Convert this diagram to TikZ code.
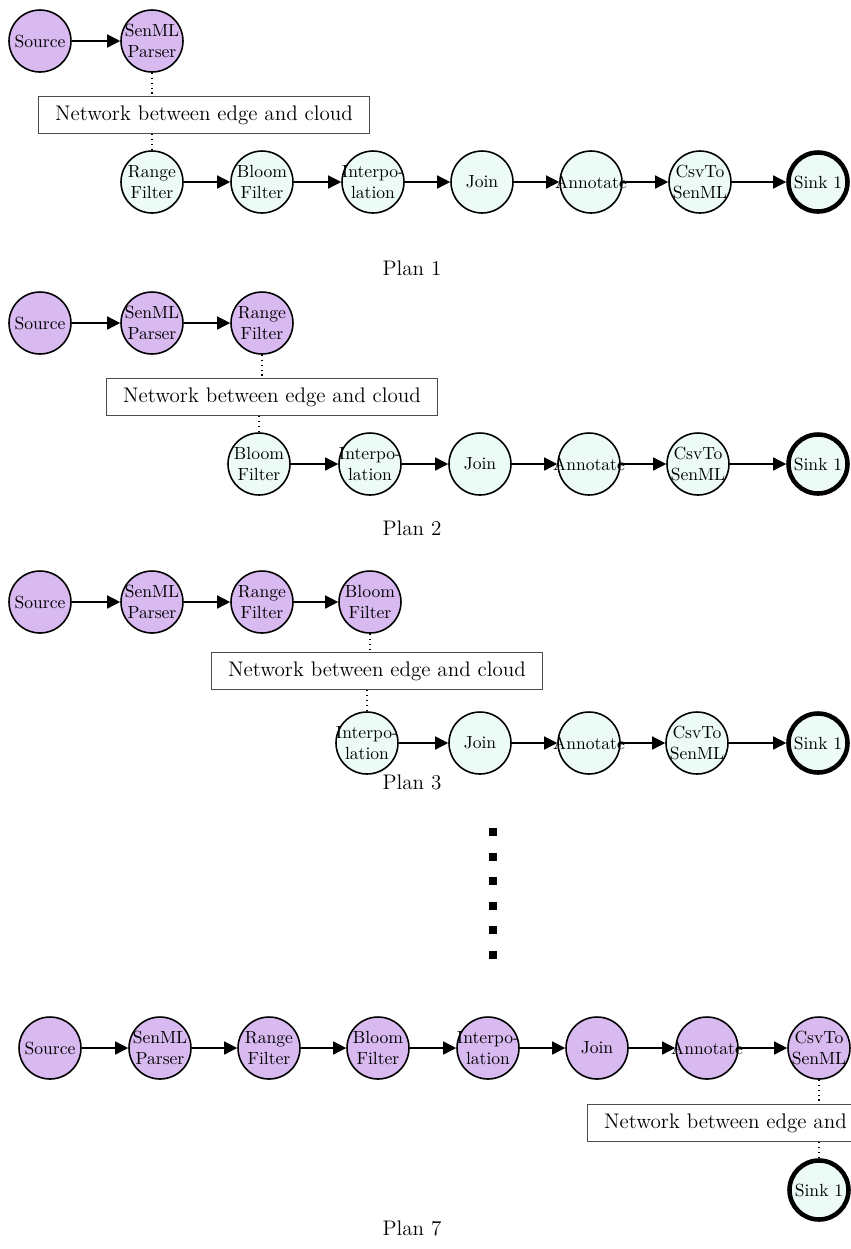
\documentclass[tikz,border=0pt]{standalone}
\usepackage{tikz}
\usetikzlibrary{arrows.meta,positioning}
\definecolor{edgefill}{HTML}{D8B9F0}
\definecolor{cloudfill}{HTML}{ECFBF5}
\tikzset{
  edgeop/.style={circle,draw=black,fill=edgefill,line width=0.9pt,
                 minimum size=1.24cm,inner sep=-4pt,align=center},
  cloudop/.style={edgeop,fill=cloudfill},
  sinkop/.style={cloudop,line width=2.6pt,minimum size=1.18cm},
  netbox/.style={draw=black!70,fill=white,line width=0.6pt,
                 minimum width=6.64cm,minimum height=0.74cm,inner sep=0pt,
                 font=\large},
  flow/.style={-{Triangle[length=2.6mm,width=2.6mm]},line width=0.8pt},
  hop/.style={dotted,line width=0.8pt},
  plantag/.style={font=\large},
}

\begin{document}
\begin{tikzpicture}[x=0.02cm,y=-0.02cm]
  \clip (0,0) rectangle (851,1249);

  % ---- Plan 1 ----
  \node[edgeop] (src1) at (40,41) {Source};
  \node[edgeop] (sen1) at (152,41) {SenML\\Parser};
  \node[netbox] (net1) at (204,115) {Network between edge and cloud};
  \node[cloudop] (rng1) at (152,182) {Range\\Filter};
  \node[cloudop] (blm1) at (262,182) {Bloom\\Filter};
  \node[cloudop] (itp1) at (373,182) {Interpo-\\lation};
  \node[cloudop] (join1) at (482,182) {Join};
  \node[cloudop] (ann1) at (591,182) {Annotate};
  \node[cloudop] (csv1) at (700,182) {CsvTo\\SenML};
  \node[sinkop] (snk1) at (818,182) {Sink 1};
  \node[plantag] (plan1) at (412,268) {Plan 1};

  \draw[flow] (src1) -- (sen1);
  \draw[hop] (sen1.south) -- (sen1.south |- net1.north);
  \draw[hop] (net1.south -| rng1) -- (rng1.north);
  \draw[flow] (rng1) -- (blm1);
  \draw[flow] (blm1) -- (itp1);
  \draw[flow] (itp1) -- (join1);
  \draw[flow] (join1) -- (ann1);
  \draw[flow] (ann1) -- (csv1);
  \draw[flow] (csv1) -- (snk1);

  % ---- Plan 2 ----
  \node[edgeop] (src2) at (40,323) {Source};
  \node[edgeop] (sen2) at (152,323) {SenML\\Parser};
  \node[edgeop] (rng2) at (262,323) {Range\\Filter};
  \node[netbox] (net2) at (272,397) {Network between edge and cloud};
  \node[cloudop] (blm2) at (259,464) {Bloom\\Filter};
  \node[cloudop] (itp2) at (370,464) {Interpo-\\lation};
  \node[cloudop] (join2) at (480,464) {Join};
  \node[cloudop] (ann2) at (589,464) {Annotate};
  \node[cloudop] (csv2) at (698,464) {CsvTo\\SenML};
  \node[sinkop] (snk2) at (818,464) {Sink 1};
  \node[plantag] (plan2) at (412,528) {Plan 2};

  \draw[flow] (src2) -- (sen2);
  \draw[flow] (sen2) -- (rng2);
  \draw[hop] (rng2.south) -- (rng2.south |- net2.north);
  \draw[hop] (net2.south -| blm2) -- (blm2.north);
  \draw[flow] (blm2) -- (itp2);
  \draw[flow] (itp2) -- (join2);
  \draw[flow] (join2) -- (ann2);
  \draw[flow] (ann2) -- (csv2);
  \draw[flow] (csv2) -- (snk2);

  % ---- Plan 3 ----
  \node[edgeop] (src3) at (40,602) {Source};
  \node[edgeop] (sen3) at (152,602) {SenML\\Parser};
  \node[edgeop] (rng3) at (262,602) {Range\\Filter};
  \node[edgeop] (blm3) at (370,602) {Bloom\\Filter};
  \node[netbox] (net3) at (377,671) {Network between edge and cloud};
  \node[cloudop] (itp3) at (367,743) {Interpo-\\lation};
  \node[cloudop] (join3) at (480,743) {Join};
  \node[cloudop] (ann3) at (589,743) {Annotate};
  \node[cloudop] (csv3) at (697,743) {CsvTo\\SenML};
  \node[sinkop] (snk3) at (818,743) {Sink 1};
  \node[plantag] (plan3) at (412,782) {Plan 3};

  \draw[flow] (src3) -- (sen3);
  \draw[flow] (sen3) -- (rng3);
  \draw[flow] (rng3) -- (blm3);
  \draw[hop] (blm3.south) -- (blm3.south |- net3.north);
  \draw[hop] (net3.south -| itp3) -- (itp3.north);
  \draw[flow] (itp3) -- (join3);
  \draw[flow] (join3) -- (ann3);
  \draw[flow] (ann3) -- (csv3);
  \draw[flow] (csv3) -- (snk3);

  % ---- skipped plans ----
  \foreach \y in {832,857,881,906,930,955}
    \fill (489,\y-4) rectangle (497,\y+4);

  % ---- Plan 7 ----
  \node[edgeop] (src7) at (50,1048) {Source};
  \node[edgeop] (sen7) at (160,1048) {SenML\\Parser};
  \node[edgeop] (rng7) at (269,1048) {Range\\Filter};
  \node[edgeop] (blm7) at (378,1048) {Bloom\\Filter};
  \node[edgeop] (itp7) at (488,1048) {Interpo-\\lation};
  \node[edgeop] (join7) at (597,1048) {Join};
  \node[edgeop] (ann7) at (707,1048) {Annotate};
  \node[edgeop] (csv7) at (819,1048) {CsvTo\\SenML};
  \node[netbox] (net7) at (753,1123) {Network between edge and cloud};
  \node[sinkop] (snk7) at (819,1190) {Sink 1};
  \node[plantag] (plan7) at (412,1228) {Plan 7};

  \draw[flow] (src7) -- (sen7);
  \draw[flow] (sen7) -- (rng7);
  \draw[flow] (rng7) -- (blm7);
  \draw[flow] (blm7) -- (itp7);
  \draw[flow] (itp7) -- (join7);
  \draw[flow] (join7) -- (ann7);
  \draw[flow] (ann7) -- (csv7);
  \draw[hop] (csv7.south) -- (csv7.south |- net7.north);
  \draw[hop] (net7.south -| snk7) -- (snk7.north);
\end{tikzpicture}
\end{document}
